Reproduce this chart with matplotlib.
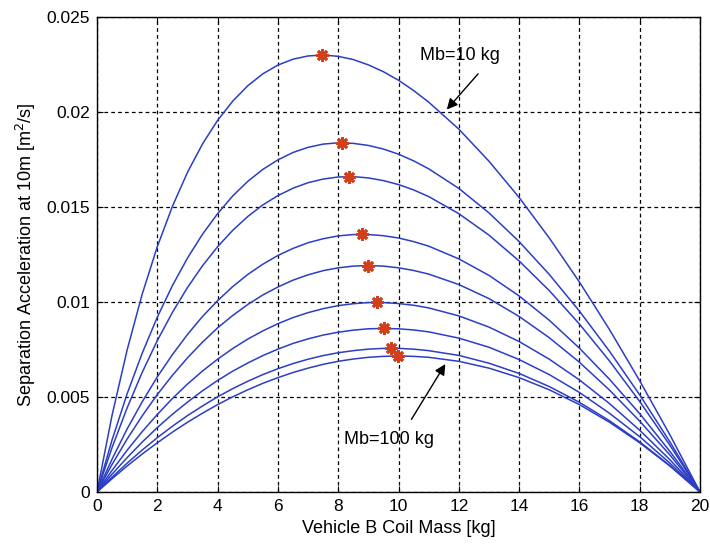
import matplotlib
matplotlib.use("Agg")
import matplotlib.pyplot as plt

plt.rcParams["font.family"] = ["Liberation Sans", "DejaVu Sans"]

# coil mass of vehicle B [kg]
coil_mass = [0, 0.5, 1, 1.5, 2, 2.5, 3, 3.5, 4, 4.5, 5, 5.5, 6, 6.5, 7, 7.5, 8, 8.5, 9, 9.5, 10, 10.5,
             11, 12, 13, 14, 15, 16, 17, 18, 19, 20]

# separation acceleration at 10 m, one curve per vehicle B mass (light -> heavy)
accel_curves = [
    [0, .00404, .00748, .01042, .01291, .01503, .01682, .01832, .01956, .02057, .02138,
     .02201, .02247, .02278, .02295, .02300, .02293, .02276, .02248, .02212, .02167, .02113,
     .02052, .01910, .01741, .01550, .01337, .01105, .00854, .00585, .00301, 0],
    [0, .00274, .00517, .00731, .00920, .01086, .01231, .01357, .01465, .01558, .01635,
     .01698, .01748, .01787, .01814, .01831, .01838, .01835, .01824, .01805, .01778, .01743,
     .01701, .01598, .01469, .01318, .01145, .00952, .00740, .00511, .00264, 0],
    [0, .00234, .00443, .00630, .00797, .00945, .01076, .01191, .01291, .01377, .01450,
     .01511, .01560, .01599, .01628, .01647, .01658, .01660, .01653, .01639, .01618, .01590,
     .01555, .01465, .01352, .01216, .01060, .00884, .00689, .00476, .00246, 0],
    [0, .00173, .00332, .00475, .00606, .00723, .00829, .00924, .01007, .01081, .01145,
     .01199, .01245, .01282, .01312, .01333, .01348, .01355, .01355, .01349, .01337, .01318,
     .01294, .01227, .01140, .01032, .00904, .00757, .00593, .00412, .00214, 0],
    [0, .00145, .00279, .00401, .00513, .00614, .00706, .00789, .00864, .00929, .00987,
     .01037, .01079, .01115, .01143, .01165, .01180, .01189, .01192, .01189, .01180, .01166,
     .01147, .01092, .01018, .00924, .00812, .00683, .00536, .00373, .00195, 0],
    [0, .00114, .00220, .00318, .00408, .00492, .00568, .00637, .00699, .00755, .00805,
     .00848, .00886, .00918, .00944, .00965, .00981, .00991, .00997, .00997, .00992, .00983,
     .00969, .00927, .00868, .00792, .00699, .00590, .00465, .00325, .00170, 0],
    [0, .00094, .00181, .00263, .00339, .00409, .00473, .00533, .00587, .00636, .00679,
     .00718, .00752, .00782, .00806, .00826, .00841, .00852, .00859, .00861, .00859, .00853,
     .00843, .00810, .00762, .00697, .00618, .00524, .00414, .00291, .00152, 0],
    [0, .00078, .00152, .00221, .00286, .00346, .00402, .00453, .00501, .00544, .00583,
     .00618, .00649, .00676, .00699, .00718, .00733, .00744, .00752, .00756, .00756, .00752,
     .00744, .00719, .00678, .00624, .00555, .00472, .00375, .00264, .00139, 0],
    [0, .00070, .00137, .00200, .00259, .00315, .00367, .00415, .00460, .00501, .00538,
     .00572, .00602, .00629, .00652, .00672, .00688, .00700, .00709, .00714, .00716, .00714,
     .00709, .00688, .00652, .00602, .00538, .00460, .00367, .00259, .00137, 0],
]

# location of the maximum on each curve
peak_mass = [7.45, 8.12, 8.36, 8.78, 9.0, 9.28, 9.52, 9.75, 9.99]
peak_accel = [0.0230, 0.01838, 0.0166, 0.01356, 0.01191, 0.00998, 0.00861, 0.00756, 0.00716]

x_ticks = [0, 2, 4, 6, 8, 10, 12, 14, 16, 18, 20]
y_ticks = [0, 0.005, 0.01, 0.015, 0.02, 0.025]
y_tick_labels = ["0", "0.005", "0.01", "0.015", "0.02", "0.025"]

LINE_COLOR = "#2b3ec4"
MARK_COLOR = "#d0401c"


def main() -> None:
    fig = plt.figure(figsize=(7.10, 5.45), dpi=100)
    ax = fig.add_axes([0.1366, 0.0972, 0.8494, 0.8716])

    for curve in accel_curves:
        ax.plot(coil_mass, curve, color=LINE_COLOR, lw=1.1)

    ax.plot(peak_mass, peak_accel, linestyle="none", marker=(8, 2, 0),
            markersize=9, markeredgewidth=2.0, color=MARK_COLOR, zorder=5)

    ax.set_xlim(0, 20)
    ax.set_ylim(0, 0.025)
    ax.set_xticks(x_ticks)
    ax.set_yticks(y_ticks)
    ax.set_yticklabels(y_tick_labels)
    ax.tick_params(direction="in", length=4, labelsize=12.5, pad=5, top=True, right=True,
                   labeltop=False, labelright=False)
    ax.grid(True, color="black", linestyle=(0, (3, 2.5)), linewidth=0.9)
    for s in ax.spines.values():
        s.set_linewidth(1.0)

    ax.set_xlabel("Vehicle B Coil Mass [kg]", fontsize=13, labelpad=4)
    ax.set_ylabel("Separation Acceleration at 10m [m$^2$/s]", fontsize=13, labelpad=6)

    arrow = dict(arrowstyle="-|>", color="black", lw=1.0, mutation_scale=16)
    ax.annotate("", xy=(11.54, 0.02002), xytext=(12.70, 0.02212), arrowprops=arrow)
    ax.text(12.04, 0.0230, "Mb=10 kg", ha="center", va="center", fontsize=13)
    ax.annotate("", xy=(11.6, 0.00686), xytext=(10.38, 0.0037), arrowprops=arrow)
    ax.text(9.68, 0.00279, "Mb=100 kg", ha="center", va="center", fontsize=13)

    fig.savefig("out.png", dpi=100)
    plt.close(fig)


if __name__ == "__main__":
    main()
